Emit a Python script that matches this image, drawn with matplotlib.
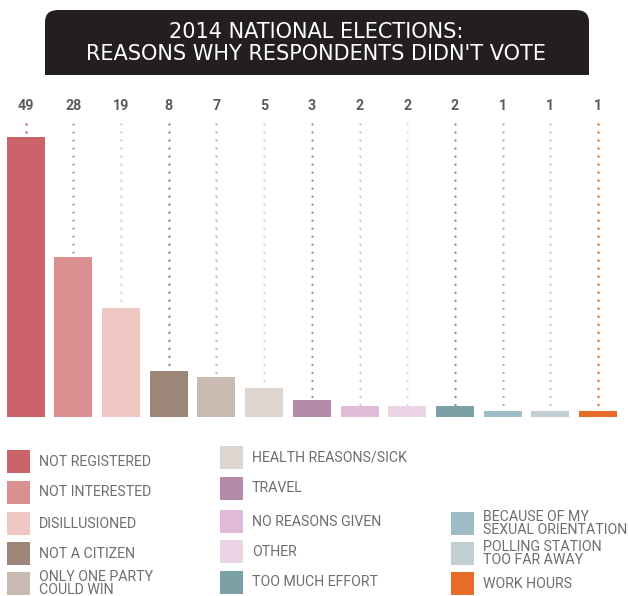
import matplotlib
matplotlib.use("Agg")
import matplotlib.pyplot as plt
from matplotlib.patches import FancyBboxPatch, Rectangle
import numpy as np

plt.rcParams['font.family'] = ['Roboto', 'DejaVu Sans']
plt.rcParams['lines.scale_dashes'] = False

title_lines = ["2014 NATIONAL ELECTIONS:", "REASONS WHY RESPONDENTS DIDN'T VOTE"]
categories = ["NOT REGISTERED", "NOT INTERESTED", "DISILLUSIONED", "NOT A CITIZEN",
              "ONLY ONE PARTY\nCOULD WIN", "HEALTH REASONS/SICK", "TRAVEL",
              "NO REASONS GIVEN", "OTHER", "TOO MUCH EFFORT",
              "BECAUSE OF MY\nSEXUAL ORIENTATION", "POLLING STATION\nTOO FAR AWAY",
              "WORK HOURS"]
values = [49, 28, 19, 8, 7, 5, 3, 2, 2, 2, 1, 1, 1]
colors = ["#cc636b", "#da9091", "#efc8c3", "#9c8677", "#c9bbb2", "#ddd5cf",
          "#b48aab", "#e0bad9", "#ead4e6", "#7ba1a6", "#9dbcc6", "#c1ced2",
          "#e86c28"]

W, H = 628, 596
fig = plt.figure(figsize=(W / 100, H / 100), dpi=100)

def fx(px):
    return px / W

def fy(py):
    return 1 - py / H

# Title box
box = FancyBboxPatch((fx(45), fy(75)), fx(589) - fx(45), fy(10) - fy(75),
                     boxstyle="round,pad=0,rounding_size=0.021",
                     transform=fig.transFigure, facecolor="#231f20",
                     edgecolor="none", mutation_aspect=H / W)
fig.patches.append(box)
fig.patches.append(Rectangle((fx(45), fy(75)), fx(589) - fx(45), 0.04,
                             transform=fig.transFigure, facecolor="#231f20",
                             edgecolor="none"))
for line, ypx in zip(title_lines, [32.5, 54.5]):
    fig.text(fx(316), fy(ypx), line, color="white", fontsize=15.0,
             family=['DejaVu Sans'], ha="center", va="center")

# Bar axes
px_per_unit_x = 47.7
x0 = 25.6
ax = fig.add_axes([0, fy(417), 1, fy(97) - fy(417)])
ax.set_xlim(-x0 / px_per_unit_x, (W - x0) / px_per_unit_x)
ax.set_ylim(0, 56)
ax.axis("off")

xs = np.arange(len(values))
ax.bar(xs, values, width=38 / px_per_unit_x, color=colors, zorder=3)

dot_top = 51.3
label_y = 54.4
for x, v, c in zip(xs, values, colors):
    ax.plot([x, x], [dot_top, v], color=c, linewidth=1.8,
            dashes=(0.01, 5.76), dash_capstyle="round", zorder=2)
    ax.text(x, label_y, str(v), ha="center", va="center", fontsize=10.3,
            fontweight="bold", color="#5b5b5d")

# Legend
sq = 23
legend_cols = [(7, 39, [0, 1, 2, 3, 4], [450, 481, 512, 542, 572]),
               (220, 252, [5, 6, 7, 8, 9], [446, 477, 510, 540, 571]),
               (451, 483, [10, 11, 12], [512, 542, 572])]
for sx, tx, idxs, tops in legend_cols:
    for i, top in zip(idxs, tops):
        fig.patches.append(Rectangle((fx(sx), fy(top + sq)), fx(sq), sq / H,
                                     transform=fig.transFigure,
                                     facecolor=colors[i], edgecolor="none"))
        fig.text(fx(tx), fy(top + sq / 2), categories[i], fontsize=10.2,
                 color="#6d6e71", ha="left", va="center", linespacing=0.9)

fig.savefig("out.png", dpi=100)
